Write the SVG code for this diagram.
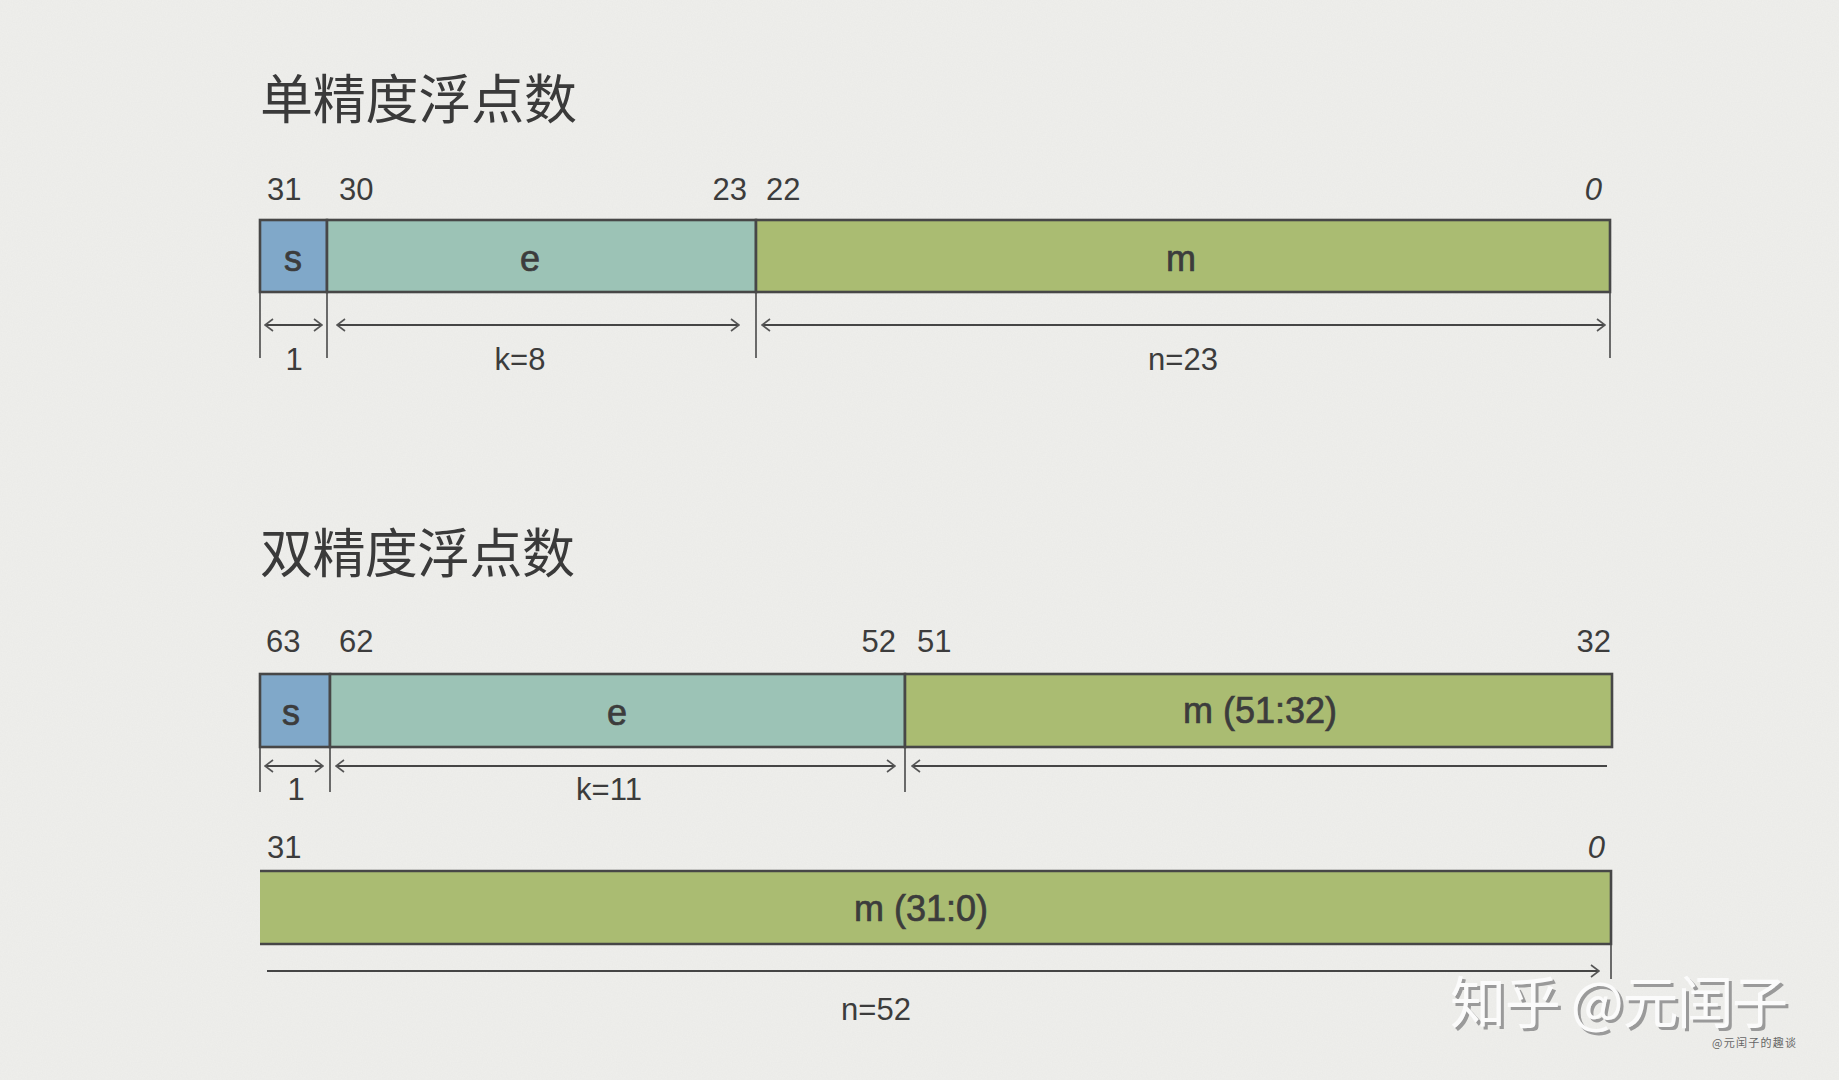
<svg xmlns="http://www.w3.org/2000/svg" width="1839" height="1080" viewBox="0 0 1839 1080">
<defs>
<style>
.title{font-family:"Noto Sans CJK SC","Noto Sans",sans-serif;font-size:53px;fill:#3a3a3a;}
.num{font-family:"Liberation Sans",Arial,sans-serif;font-size:31px;fill:#3c3c3c;}
.lbl{font-family:"Liberation Sans",Arial,sans-serif;font-size:36px;fill:#3c3c3c;stroke:#3c3c3c;stroke-width:0.7;text-anchor:middle;}
.dim{font-family:"Liberation Sans",Arial,sans-serif;font-size:31px;fill:#3c3c3c;text-anchor:middle;}
.box{stroke:#474747;stroke-width:2.6;}
.s{fill:#80a8c9;}
.e{fill:#9cc3b6;}
.m{fill:#aabc72;}
.tick{stroke:#4a4a4a;stroke-width:1.6;fill:none;}
.arr{stroke:#454545;stroke-width:2.2;fill:none;}
.wm{font-family:"Noto Sans CJK SC","Noto Sans",sans-serif;font-size:56px;}
</style>
<filter id="paper" x="0" y="0" width="100%" height="100%">
<feTurbulence type="fractalNoise" baseFrequency="0.8" numOctaves="3" seed="4" result="n"/>
<feColorMatrix in="n" type="matrix" values="0 0 0 0 0.5  0 0 0 0 0.5  0 0 0 0 0.5  0 0 0 0.1 0"/>
</filter>
<marker id="la" viewBox="0 0 12 16" refX="1" refY="8" markerWidth="12" markerHeight="16" markerUnits="userSpaceOnUse" orient="auto">
<path d="M9 2 L1 8 L9 14" fill="none" stroke="#555" stroke-width="1.6"/>
</marker>
<marker id="ra" viewBox="0 0 12 16" refX="11" refY="8" markerWidth="12" markerHeight="16" markerUnits="userSpaceOnUse" orient="auto">
<path d="M3 2 L11 8 L3 14" fill="none" stroke="#555" stroke-width="1.6"/>
</marker>
</defs>

<rect width="1839" height="1080" fill="#efefec"/>
<rect width="1839" height="1080" filter="url(#paper)"/>

<g id="single">
<text class="title" x="260" y="119" textLength="317">单精度浮点数</text>
<g id="single-bits">
<text class="num" x="267" y="200">31</text>
<text class="num" x="339" y="200">30</text>
<text class="num" x="747" y="200" text-anchor="end">23</text>
<text class="num" x="766" y="200">22</text>
<text class="num" x="1602" y="200" text-anchor="end" font-style="italic">0</text>
</g>
<g id="single-s"><rect class="box s" x="260" y="220" width="67" height="72"/><text class="lbl" x="293" y="271" stroke-width="1.3">s</text></g>
<g id="single-e"><rect class="box e" x="327" y="220" width="429" height="72"/><text class="lbl" x="530" y="271">e</text></g>
<g id="single-m"><rect class="box m" x="756" y="220" width="854" height="72"/><text class="lbl" x="1181" y="271">m</text></g>
<text class="dim" x="294" y="370">1</text>
<text class="dim" x="520" y="370">k=8</text>
<text class="dim" x="1183" y="370">n=23</text>
</g>

<g id="double">
<text class="title" x="260" y="573" textLength="315">双精度浮点数</text>
<g id="double-bits">
<text class="num" x="266" y="652">63</text>
<text class="num" x="339" y="652">62</text>
<text class="num" x="896" y="652" text-anchor="end">52</text>
<text class="num" x="917" y="652">51</text>
<text class="num" x="1611" y="652" text-anchor="end">32</text>
</g>
<g id="double-s"><rect class="box s" x="260" y="674" width="70" height="73"/><text class="lbl" x="291" y="725" stroke-width="1.3">s</text></g>
<g id="double-e"><rect class="box e" x="330" y="674" width="575" height="73"/><text class="lbl" x="617" y="725">e</text></g>
<g id="double-mhi"><rect class="box m" x="905" y="674" width="707" height="73"/><text class="lbl" x="1260" y="723">m (51:32)</text></g>
<text class="dim" x="296" y="800">1</text>
<text class="dim" x="609" y="800">k=11</text>
<g id="double-bits-lo">
<text class="num" x="267" y="858">31</text>
<text class="num" x="1605" y="858" text-anchor="end" font-style="italic">0</text>
</g>
<g id="double-mlo"><rect class="m" x="260" y="871" width="1351" height="73"/><path class="box" fill="none" d="M260 871 H1611 V944 H260"/><text class="lbl" x="921" y="921">m (31:0)</text></g>
<text class="dim" x="876" y="1020">n=52</text>
</g>

<g id="connectors">
<path class="tick" d="M260 292 V358 M327 292 V358 M756 292 V358 M1610 292 V358"/>
<line class="arr" x1="265" y1="325" x2="322" y2="325" marker-start="url(#la)" marker-end="url(#ra)"/>
<line class="arr" x1="337" y1="325" x2="739" y2="325" marker-start="url(#la)" marker-end="url(#ra)"/>
<line class="arr" x1="762" y1="325" x2="1605" y2="325" marker-start="url(#la)" marker-end="url(#ra)"/>

<path class="tick" d="M260 747 V792 M330 747 V792 M905 747 V792"/>
<line class="arr" x1="265" y1="766" x2="323" y2="766" marker-start="url(#la)" marker-end="url(#ra)"/>
<line class="arr" x1="336" y1="766" x2="895" y2="766" marker-start="url(#la)" marker-end="url(#ra)"/>
<line class="arr" x1="912" y1="766" x2="1607" y2="766" marker-start="url(#la)"/>

<path class="tick" d="M1611 944 V979"/>
<line class="arr" x1="267" y1="971" x2="1599" y2="971" marker-end="url(#ra)"/>
</g>

<g id="watermark">
<text class="wm" x="1453" y="1026" fill="#9a9a9a" textLength="338">知乎 @元闰子</text>
<text class="wm" x="1450" y="1023" fill="#fbfbfb" textLength="338">知乎 @元闰子</text>
<text x="1712" y="1047" font-family="'Noto Sans CJK SC',sans-serif" font-size="11" fill="#666" textLength="84">@元闰子的趣谈</text>
</g>
</svg>
